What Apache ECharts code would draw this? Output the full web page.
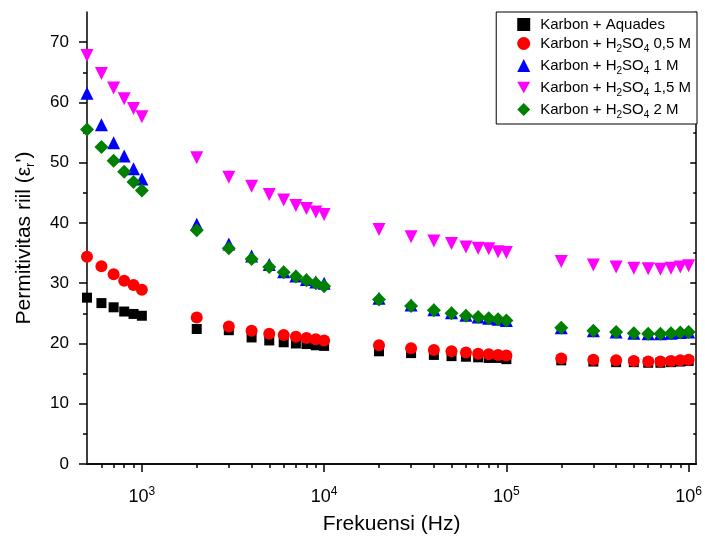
<!DOCTYPE html>
<html>
<head>
<meta charset="utf-8">
<script src="https://cdn.jsdelivr.net/npm/echarts@6/dist/echarts.min.js"></script>
<style>
  html, body { margin: 0; padding: 0; background: #fff; }
  #chart { width: 705px; height: 540px; }
</style>
</head>
<body>
<div id="chart"></div>
<script>
// Frequency points (Hz)
const freq = [
  500, 600, 700, 800, 900, 1000,
  2000, 3000, 4000, 5000, 6000, 7000, 8000, 9000, 10000,
  20000, 30000, 40000, 50000, 60000, 70000, 80000, 90000, 100000,
  200000, 300000, 400000, 500000, 600000, 700000, 800000, 900000, 1000000
];

// Real permittivity for each sample
const aquades = [
  27.6, 26.7, 26.0, 25.3, 24.9, 24.6,
  22.4, 22.2, 21.0, 20.5, 20.2, 20.0, 19.9, 19.7, 19.6,
  18.7, 18.4, 18.1, 17.9, 17.8, 17.7, 17.6, 17.6, 17.4,
  17.2, 17.0, 16.9, 16.9, 16.8, 16.8, 16.9, 17.0, 17.1
];
const h2so4_05 = [
  34.4, 32.8, 31.5, 30.4, 29.7, 28.9,
  24.3, 22.8, 22.1, 21.6, 21.4, 21.1, 20.9, 20.7, 20.5,
  19.7, 19.2, 18.9, 18.7, 18.5, 18.3, 18.2, 18.1, 18.0,
  17.5, 17.3, 17.2, 17.1, 17.0, 17.0, 17.1, 17.2, 17.3
];
const h2so4_1 = [
  61.5, 56.3, 53.3, 51.1, 49.0, 47.3,
  39.8, 36.5, 34.5, 33.1, 31.9, 31.2, 30.6, 30.2, 30.0,
  27.5, 26.4, 25.6, 25.1, 24.7, 24.4, 24.2, 24.0, 23.8,
  22.6, 22.1, 21.9, 21.7, 21.6, 21.6, 21.7, 21.8, 21.9
];
const h2so4_15 = [
  67.8, 64.8, 62.4, 60.6, 59.0, 57.6,
  50.8, 47.6, 46.1, 44.7, 43.8, 42.9, 42.4, 41.8, 41.4,
  38.9, 37.7, 37.0, 36.6, 36.0, 35.8, 35.7, 35.2, 35.1,
  33.6, 33.0, 32.7, 32.5, 32.4, 32.3, 32.5, 32.7, 32.9
];
const h2so4_2 = [
  55.5, 52.6, 50.3, 48.5, 46.8, 45.4,
  38.8, 35.8, 34.0, 32.7, 31.8, 31.1, 30.5, 30.0, 29.5,
  27.3, 26.2, 25.5, 25.0, 24.6, 24.4, 24.2, 24.0, 23.8,
  22.6, 22.1, 21.9, 21.7, 21.6, 21.6, 21.7, 21.8, 21.9
];

const seriesNames = [
  'Karbon + Aquades',
  'Karbon + H2SO4 0,5 M',
  'Karbon + H2SO4 1 M',
  'Karbon + H2SO4 1,5 M',
  'Karbon + H2SO4 2 M'
];

// Axis tick positions
const xMajorTicks = [1000, 10000, 100000, 1000000];
const xMinorTicks = [
  600, 700, 800, 900,
  2000, 3000, 4000, 5000, 6000, 7000, 8000, 9000,
  20000, 30000, 40000, 50000, 60000, 70000, 80000, 90000,
  200000, 300000, 400000, 500000, 600000, 700000, 800000, 900000
];
const yMajorTicks = [0, 10, 20, 30, 40, 50, 60, 70];
const yMinorTicks = [5, 15, 25, 35, 45, 55, 65];

const FONT = 'Liberation Sans, Arial, sans-serif';
const X_MIN = 500, X_MAX = 1100000, Y_MIN = 0, Y_MAX = 75;

// Downward-pointing triangle used as the legend icon of the 1,5 M series
const DOWN_TRIANGLE = 'path://M0,0 L12,0 L6,10.4 Z';

function pairs(ys) { return freq.map((f, i) => [f, ys[i]]); }

function legendLabel(name) {
  // H2SO4 -> H{s|2}SO{s|4}
  const parts = name.split('H2SO4');
  if (parts.length === 1) return '{g|}{n|' + name + '}';
  return '{g|}{n|' + parts[0] + 'H}{s|2}{n|SO}{s|4}{n|' + parts[1] + '}';
}

const lineStyle = { color: '#000', width: 1.5 };

function xAxisBase(extra) {
  return Object.assign({
    type: 'log', logBase: 10, min: X_MIN, max: X_MAX,
    gridIndex: 0, splitLine: { show: false }
  }, extra);
}
function yAxisBase(extra) {
  return Object.assign({
    type: 'value', min: Y_MIN, max: Y_MAX,
    gridIndex: 0, splitLine: { show: false }
  }, extra);
}

const chart = echarts.init(document.getElementById('chart'), null, { renderer: 'canvas' });

const option = {
  backgroundColor: '#fff',
  animation: false,
  textStyle: { fontFamily: FONT },
  grid: { left: 87, right: 8, top: 12, bottom: 76, containLabel: false },
  legend: {
    orient: 'vertical',
    right: 8, top: 12,
    backgroundColor: '#fff',
    borderColor: '#000', borderWidth: 1,
    padding: [5, 6, 4, 21],
    itemGap: 4,
    itemWidth: 13, itemHeight: 13,
    data: seriesNames.map((n, i) => (i === 3 ? { name: n, icon: DOWN_TRIANGLE } : { name: n })),
    formatter: legendLabel,
    textStyle: {
      fontFamily: FONT,
      rich: {
        g: { width: 5 },
        n: { fontSize: 15, lineHeight: 21, color: '#000', fontFamily: FONT },
        s: { fontSize: 10, lineHeight: 12, verticalAlign: 'bottom', color: '#000', fontFamily: FONT }
      }
    }
  },
  xAxis: [
    xAxisBase({
      position: 'bottom',
      name: 'Frekuensi (Hz)', nameLocation: 'middle', nameGap: 50,
      nameTextStyle: { fontSize: 21, color: '#000', fontFamily: FONT },
      axisLine: { show: true, lineStyle: lineStyle },
      axisTick: { show: true, inside: false, length: 8, lineStyle: lineStyle, customValues: xMajorTicks },
      axisLabel: {
        show: true, margin: 22, color: '#000', customValues: xMajorTicks,
        formatter: v => '{b|10}{p|' + Math.round(Math.log10(v)) + '}',
        rich: {
          b: { fontSize: 18, lineHeight: 22, fontFamily: FONT, color: '#000' },
          p: { fontSize: 12, lineHeight: 12, verticalAlign: 'top', fontFamily: FONT, color: '#000' }
        }
      }
    }),
    xAxisBase({
      position: 'bottom',
      axisLine: { show: false },
      axisTick: { show: true, inside: false, length: 4, lineStyle: lineStyle, customValues: xMinorTicks },
      axisLabel: { show: false }
    }),
    xAxisBase({
      position: 'top',
      axisLine: { show: true, lineStyle: lineStyle },
      axisTick: { show: true, inside: true, length: 6, lineStyle: lineStyle, customValues: xMajorTicks },
      axisLabel: { show: false }
    }),
    xAxisBase({
      position: 'top',
      axisLine: { show: false },
      axisTick: { show: true, inside: true, length: 3, lineStyle: lineStyle, customValues: xMinorTicks },
      axisLabel: { show: false }
    })
  ],
  yAxis: [
    yAxisBase({
      position: 'left',
      name: '{n|Permitivitas riil (ε}{s|r}{n|\')}',
      nameLocation: 'middle', nameGap: 50,
      nameTextStyle: {
        rich: {
          n: { fontSize: 21, lineHeight: 26, color: '#000', fontFamily: FONT },
          s: { fontSize: 13, lineHeight: 13, verticalAlign: 'bottom', color: '#000', fontFamily: FONT }
        }
      },
      axisLine: { show: true, lineStyle: lineStyle },
      axisTick: { show: true, inside: false, length: 8, lineStyle: lineStyle, customValues: yMajorTicks },
      axisLabel: {
        show: true, margin: 18, fontSize: 17, color: '#000', fontFamily: FONT,
        customValues: yMajorTicks
      }
    }),
    yAxisBase({
      position: 'left',
      axisLine: { show: false },
      axisTick: { show: true, inside: false, length: 4, lineStyle: lineStyle, customValues: yMinorTicks },
      axisLabel: { show: false }
    }),
    yAxisBase({
      position: 'right',
      axisLine: { show: true, lineStyle: lineStyle },
      axisTick: { show: true, inside: true, length: 6, lineStyle: lineStyle, customValues: yMajorTicks },
      axisLabel: { show: false }
    }),
    yAxisBase({
      position: 'right',
      axisLine: { show: false },
      axisTick: { show: true, inside: true, length: 3, lineStyle: lineStyle, customValues: yMinorTicks },
      axisLabel: { show: false }
    })
  ],
  series: [
    {
      name: seriesNames[0], type: 'scatter', data: pairs(aquades),
      symbol: 'rect', symbolSize: 10, itemStyle: { color: '#000000', opacity: 1 }, clip: true
    },
    {
      name: seriesNames[1], type: 'scatter', data: pairs(h2so4_05),
      symbol: 'circle', symbolSize: 12, itemStyle: { color: '#ff0000', opacity: 1 }, clip: true
    },
    {
      name: seriesNames[2], type: 'scatter', data: pairs(h2so4_1),
      symbol: 'triangle', symbolSize: 13, itemStyle: { color: '#0000ff', opacity: 1 }, clip: true
    },
    {
      name: seriesNames[3], type: 'scatter', data: pairs(h2so4_15),
      symbol: 'triangle', symbolRotate: 180, symbolSize: 13, itemStyle: { color: '#ff00ff', opacity: 1 }, clip: true
    },
    {
      name: seriesNames[4], type: 'scatter', data: pairs(h2so4_2),
      symbol: 'diamond', symbolSize: 14, itemStyle: { color: '#008000', opacity: 1 }, clip: true
    }
  ]
};

chart.setOption(option);
</script>
</body>
</html>
